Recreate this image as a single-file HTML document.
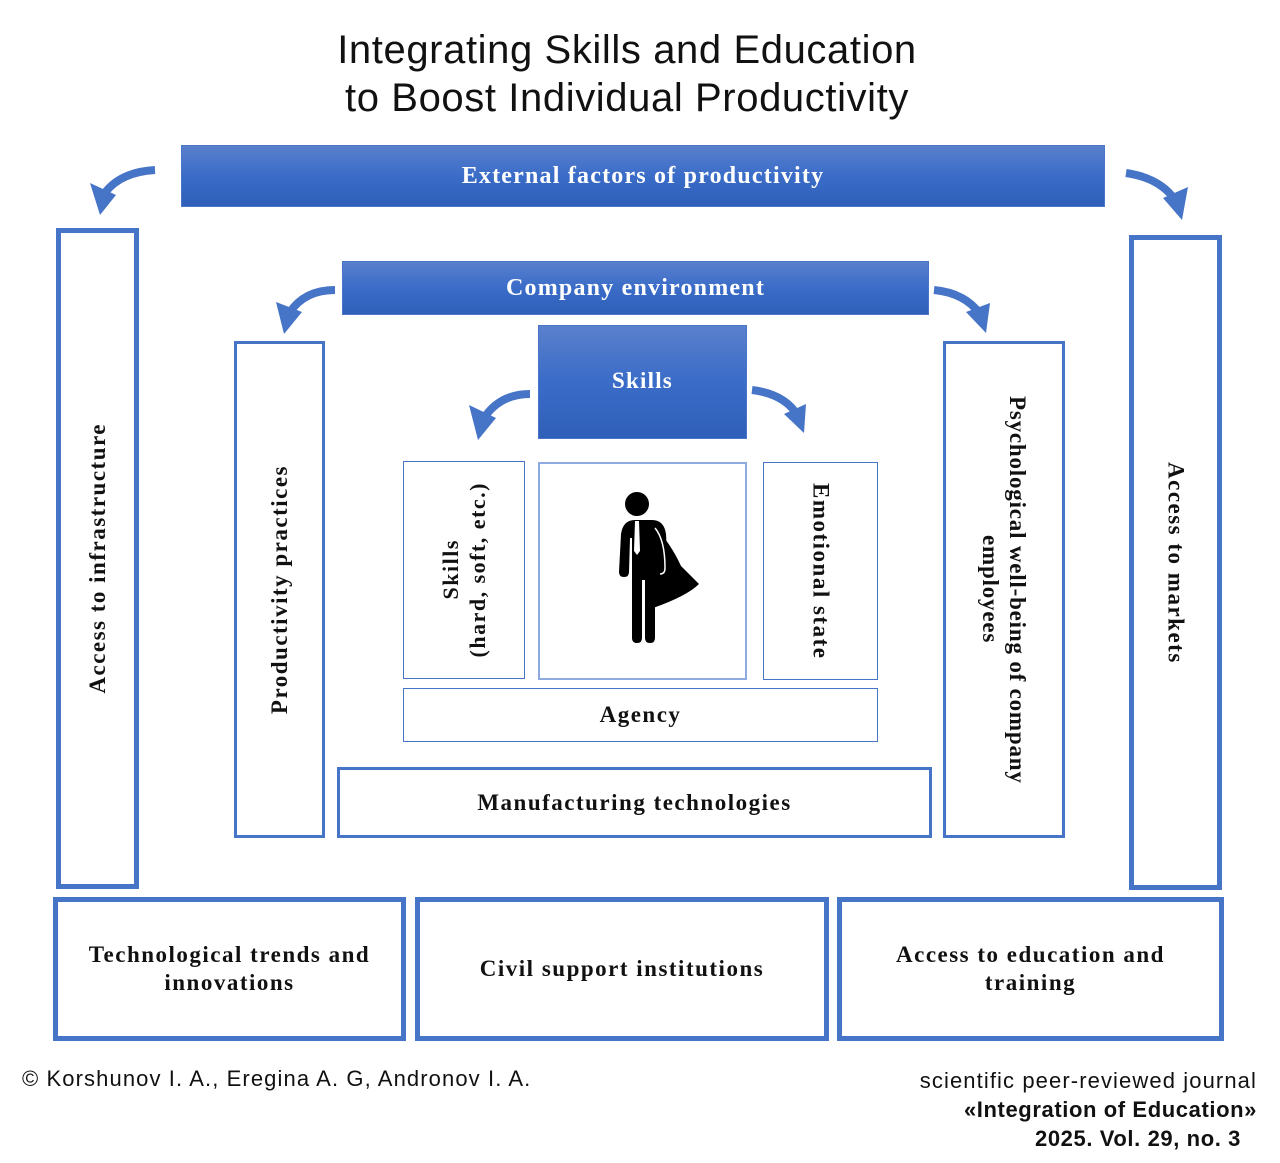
<!DOCTYPE html>
<html><head><meta charset="utf-8"><style>
body{margin:0;width:1280px;height:1163px;background:#fff;position:relative;overflow:hidden;font-family:"Liberation Sans",sans-serif}
.a{position:absolute;box-sizing:border-box}
.bar{background:linear-gradient(#5a80cc,#3a6cc8 50%,#2f5fb8);border:1px solid #4a75c8;color:#fff;font-family:"Liberation Serif",serif;font-weight:bold;display:flex;align-items:center;justify-content:center;letter-spacing:1.2px}
.box{border:solid #4674c6;display:flex;align-items:center;justify-content:center;font-family:"Liberation Serif",serif;font-weight:bold;color:#111;text-align:center;letter-spacing:1.5px}
.vl{writing-mode:vertical-rl;transform:rotate(180deg)}
.vr{writing-mode:vertical-rl}
.t{position:absolute;white-space:nowrap}
</style></head><body>
<div class="t" style="left:0;width:1254px;text-align:center;top:26px;font-size:40px;line-height:48px;color:#111;letter-spacing:0.6px">Integrating Skills and Education<br>to Boost Individual Productivity</div>

<div class="a bar" style="left:181px;top:145px;width:924px;height:62px;font-size:24px">External factors of productivity</div>
<div class="a bar" style="left:342px;top:261px;width:587px;height:54px;font-size:24px">Company environment</div>
<div class="a bar" style="left:538px;top:325px;width:209px;height:114px;font-size:23px;align-items:flex-start;padding-top:42px">Skills</div>

<div class="a box" style="left:56px;top:228px;width:83px;height:661px;border-width:5px;font-size:23px"><span class="vl">Access to infrastructure</span></div>
<div class="a box" style="left:1129px;top:235px;width:93px;height:655px;border-width:5px;font-size:23px"><span class="vr">Access to markets</span></div>
<div class="a box" style="left:234px;top:341px;width:91px;height:497px;border-width:3px;font-size:23px"><span class="vl">Productivity practices</span></div>
<div class="a box" style="left:943px;top:341px;width:122px;height:497px;border-width:3px;font-size:23px;line-height:27px;letter-spacing:0.8px"><span class="vr">Psychological well-being of company<br>employees</span></div>

<div class="a box" style="left:403px;top:461px;width:122px;height:218px;border-width:1.5px;font-size:22px;line-height:27px"><span class="vl">Skills<br>(hard, soft, etc.)</span></div>
<div class="a box" style="left:538px;top:462px;width:209px;height:218px;border:2px solid #8eaadf"></div>
<div class="a box" style="left:763px;top:462px;width:115px;height:218px;border-width:1.5px;font-size:23px"><span class="vr">Emotional state</span></div>
<div class="a box" style="left:403px;top:688px;width:475px;height:54px;border-width:1.5px;font-size:23px">Agency</div>
<div class="a box" style="left:337px;top:767px;width:595px;height:71px;border-width:3px;font-size:23px">Manufacturing technologies</div>

<div class="a box" style="left:53px;top:897px;width:353px;height:144px;border-width:5px;font-size:23px;line-height:28px">Technological trends and<br>innovations</div>
<div class="a box" style="left:415px;top:897px;width:414px;height:144px;border-width:5px;font-size:23px">Civil support institutions</div>
<div class="a box" style="left:837px;top:897px;width:387px;height:144px;border-width:5px;font-size:23px;line-height:28px">Access to education and<br>training</div>

<svg class="a" style="left:0;top:0" width="1280" height="1163">
<g fill="#000">
<circle cx="637" cy="504" r="12"/>
<path d="M653 524 q18 20 28 42 l18 18 q-12 12 -46 24z"/>
<path d="M622 520 h30 q12 0 14 14 l2 38 q0 5 -5 5 q-5 0 -5 -5 l-1 -34 h-2 v100 q0 5 -5 5 q-5 0 -5 -5 v-58 h-3 v58 q0 5 -5 5 q-5 0 -5 -5 v-100 h-2 l-1 34 q0 5 -5 5 q-5 0 -5 -5 l2 -38 q2 -14 14 -14z"/>
<path d="M635 521 h4 l1 30 l-3 4 l-3 -4z" fill="#fff"/>
<path d="M655 528 q10 12 10 40 q0 6 -5 6" fill="none" stroke="#fff" stroke-width="1.5"/>
</g>
<g fill="none" stroke="#4674c6" stroke-width="8">
<path d="M155 170 Q120 172 104 194"/>
<path d="M335 290 Q305 290 290 312"/>
<path d="M530 394 Q500 394 484 418"/>
<path d="M1126 173 Q1160 178 1175 200"/>
<path d="M934 290 Q965 293 980 314"/>
<path d="M752 390 Q785 394 798 416"/>
</g>
<g fill="#4674c6">
<polygon points="90,183 116,195 100,215"/>
<polygon points="276,302 302,312 284,334"/>
<polygon points="469,405 496,418 478,440"/>
<polygon points="1188,187 1163,198 1182,220"/>
<polygon points="990,303 966,312 986,333"/>
<polygon points="806,404 784,414 804,433"/>
</g>
</svg>

<div class="t" style="left:22px;top:1066px;font-size:22px;color:#111;letter-spacing:1.1px">© Korshunov I. A., Eregina A. G, Andronov I. A.</div>
<div class="t" style="right:23px;top:1066px;font-size:22px;color:#111;text-align:right;line-height:29px;letter-spacing:1.1px">scientific peer-reviewed journal<br><b style="letter-spacing:0.6px">«Integration of Education»</b><br><b style="margin-right:16px;letter-spacing:0.6px">2025. Vol. 29, no. 3</b></div>
</body></html>
